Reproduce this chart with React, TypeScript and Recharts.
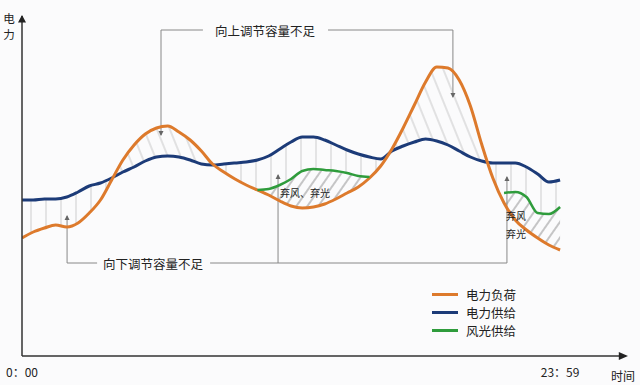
import { ComposedChart, Line, Area, XAxis, YAxis, ReferenceLine, ReferenceDot, Legend } from 'recharts';

// 时间轴（小时）
const hours = [
  0, 0.5, 1, 1.5, 2, 2.5, 3, 3.5, 4, 4.5, 5, 5.5, 6, 6.5, 7, 7.5, 8, 8.5, 9, 9.5,
  10, 10.5, 11, 11.5, 12, 12.5, 13, 13.5, 14, 14.5, 15, 15.5, 16, 16.5, 17, 17.5,
  18, 18.5, 19, 19.5, 20, 20.5, 21, 21.5, 22, 22.5, 23, 23.5, 24,
];

// 电力负荷
const load = [
  118, 124, 128, 131, 129, 133, 143, 156, 176, 196, 211, 222, 228, 230, 224, 216, 205, 192, 184, 177,
  171, 166, 161, 155, 150, 148, 149, 152, 157, 163, 169, 178, 190, 207, 228, 251,
  274, 289, 288, 276, 250, 212, 178, 153, 136, 126, 118, 111, 106,
];

// 电力供给
const supply = [
  156, 156, 157, 157, 159, 164, 170, 173, 178, 184, 189, 195, 199, 200, 199, 196, 192, 191, 192, 193,
  194, 196, 200, 207, 214, 219, 219, 216, 211, 206, 202, 199, 197, 205, 210, 214,
  217, 215, 211, 205, 199, 195, 193, 193, 193, 189, 182, 174, 176,
];

// 风光供给（只在两段时间内有）
const renewable: (number | null)[] = [
  null, null, null, null, null, null, null, null, null, null, null, null, null, null, null, null, null, null, null, null,
  null, 166, 167, 171, 177, 185, 187, 186, 185, 183, 180, 179, null, null, null, null,
  null, null, null, null, null, null, null, 163, 164, 159, 143, 142, 149,
];

const seriesNames = ['电力负荷', '电力供给', '风光供给'];
const seriesColors = ['#dd7a2c', '#1c3b78', '#2f9c3c'];

const xTickLabels: Record<number, string> = { 0: '0：00', 24: '23：59' };

const data = hours.map((h, i) => {
  const r = renewable[i];
  const lo = r == null ? load[i] : Math.max(load[i], r);
  return {
    h,
    load: load[i],
    supply: supply[i],
    renewable: r,
    up: [supply[i], Math.max(supply[i], load[i])],
    down: [lo, Math.max(lo, supply[i])],
    curtail: r == null ? null : [load[i], Math.max(load[i], r)],
  };
});

const X_MAX = 26.94;
const FONT = '"Noto Sans CJK SC", "Noto Sans", sans-serif';

// 标注框线 [x1, y1, x2, y2]
const bracketUp = [
  [6.2, 326, 8.07, 326],
  [6.2, 326, 6.2, 221],
  [13.65, 326, 19.22, 326],
  [19.22, 326, 19.22, 259],
];
const bracketDown = [
  [2.01, 93, 2.01, 140],
  [2.01, 93, 3.35, 93],
  [8.39, 93, 21.63, 93],
  [11.42, 93, 11.42, 181],
  [21.63, 93, 21.63, 179],
];
const arrowTips: [number, number, string][] = [
  [6.2, 221, 'down'],
  [19.22, 259, 'down'],
  [2.01, 140, 'up'],
  [11.42, 181, 'up'],
  [21.63, 179, 'up'],
];
const notes: [number, number, string, number][] = [
  [10.84, 326, '向上调节容量不足', 12.5],
  [5.84, 93, '向下调节容量不足', 12.5],
  [12.62, 164, '弃风、弃光', 10],
  [22.03, 141, '弃风', 10],
  [22.03, 123, '弃光', 10],
];

const Tri = ({ cx, cy, dir, size = 4, color = '#666' }: any) => {
  if (cx == null || cy == null) return null;
  let pts = '';
  if (dir === 'up') pts = `${cx},${cy - 1} ${cx - size},${cy + size * 1.6} ${cx + size},${cy + size * 1.6}`;
  if (dir === 'down') pts = `${cx},${cy + 1} ${cx - size},${cy - size * 1.6} ${cx + size},${cy - size * 1.6}`;
  if (dir === 'right') pts = `${cx + 2},${cy} ${cx - size * 1.8},${cy - size} ${cx - size * 1.8},${cy + size}`;
  return <polygon points={pts} fill={color} />;
};

const LegendBox = () => (
  <div style={{ fontFamily: FONT, fontSize: 12.5, color: '#222' }}>
    {seriesNames.map((name, i) => (
      <div key={name} style={{ display: 'flex', alignItems: 'center', height: 18 }}>
        <div style={{ width: 26, height: 3, background: seriesColors[i], marginRight: 8 }} />
        <span>{name}</span>
      </div>
    ))}
  </div>
);

export default function App() {
  return (
    <div style={{ position: 'absolute', left: 0, top: 0, width: 640, height: 385, background: '#fbfbfc' }}>
      <ComposedChart width={640} height={385} data={data} margin={{ top: 16, right: 14, bottom: 0, left: 0 }}>
        <defs>
          <pattern id="hatchUp" patternUnits="userSpaceOnUse" width="12" height="12" patternTransform="rotate(-22)">
            <line x1="1" y1="0" x2="1" y2="12" stroke="#9c9c9c" strokeWidth="0.9" />
          </pattern>
          <pattern id="hatchDown" patternUnits="userSpaceOnUse" width="15" height="10">
            <line x1="1" y1="0" x2="1" y2="10" stroke="#a6a6a6" strokeWidth="0.9" />
          </pattern>
          <pattern id="hatchCurtail" patternUnits="userSpaceOnUse" width="9" height="9" patternTransform="rotate(35)">
            <line x1="1" y1="0" x2="1" y2="9" stroke="#333" strokeWidth="0.9" />
          </pattern>
        </defs>
        <XAxis
          dataKey="h"
          type="number"
          domain={[0, X_MAX]}
          allowDataOverflow
          ticks={[0, 24]}
          tickFormatter={(v: number) => xTickLabels[v] ?? ''}
          tick={{ fontSize: 12, fill: '#222', fontFamily: FONT }}
          tickLine={false}
          tickMargin={6}
          height={29}
          axisLine={{ stroke: '#333', strokeWidth: 1.5 }}
          label={{
            content: ({ viewBox }: any) => (
              <text x={viewBox.x + viewBox.width - 3} y={viewBox.y + 25} textAnchor="middle" fontSize={12} fill="#222" fontFamily={FONT}>
                时间
              </text>
            ),
          }}
        />
        <YAxis
          type="number"
          domain={[0, 340]}
          allowDataOverflow
          width={22}
          tick={false}
          tickLine={false}
          axisLine={{ stroke: '#333', strokeWidth: 1.5 }}
          label={{
            content: () => (
              <g fontSize={11.5} fill="#222" fontFamily={FONT}>
                <text x={9} y={23} textAnchor="middle">电</text>
                <text x={9} y={39} textAnchor="middle">力</text>
              </g>
            ),
          }}
        />

        <Area type="monotone" dataKey="up" stroke="none" fill="url(#hatchUp)" isAnimationActive={false} legendType="none" />
        <Area type="monotone" dataKey="down" stroke="none" fill="url(#hatchDown)" isAnimationActive={false} legendType="none" />
        <Area type="monotone" dataKey="curtail" stroke="none" fill="url(#hatchCurtail)" isAnimationActive={false} legendType="none" />

        {[...bracketUp, ...bracketDown].map((s, i) => (
          <ReferenceLine
            key={'b' + i}
            segment={[{ x: s[0], y: s[1] }, { x: s[2], y: s[3] }]}
            stroke="#888"
            strokeWidth={1}
            ifOverflow="visible"
          />
        ))}
        {arrowTips.map((a, i) => (
          <ReferenceDot key={'a' + i} x={a[0]} y={a[1]} ifOverflow="visible" shape={(p: any) => <Tri {...p} dir={a[2]} size={2.5} />} />
        ))}

        <Line type="monotone" dataKey="supply" stroke={seriesColors[1]} strokeWidth={3} dot={false} isAnimationActive={false} />
        <Line type="monotone" dataKey="load" stroke={seriesColors[0]} strokeWidth={3} dot={false} isAnimationActive={false} />
        <Line type="monotone" dataKey="renewable" stroke={seriesColors[2]} strokeWidth={2.5} dot={false} isAnimationActive={false} />

        {notes.map((n, i) => (
          <ReferenceDot
            key={'n' + i}
            x={n[0]}
            y={n[1]}
            ifOverflow="visible"
            shape={(p: any) => (
              <text x={p.cx} y={p.cy} textAnchor="middle" dominantBaseline="central" fontSize={n[3]} fill="#222" fontFamily={FONT}>
                {n[2]}
              </text>
            )}
          />
        ))}

        <ReferenceDot x={0} y={340} ifOverflow="visible" shape={(p: any) => <Tri {...p} dir="up" size={4} color="#222" />} />
        <ReferenceDot x={X_MAX} y={0} ifOverflow="visible" shape={(p: any) => <Tri {...p} dir="right" size={4} color="#222" />} />

        <Legend
          layout="vertical"
          align="center"
          verticalAlign="middle"
          content={() => <LegendBox />}
          wrapperStyle={{ left: 432, top: 285, width: 120 }}
        />
      </ComposedChart>
    </div>
  );
}
